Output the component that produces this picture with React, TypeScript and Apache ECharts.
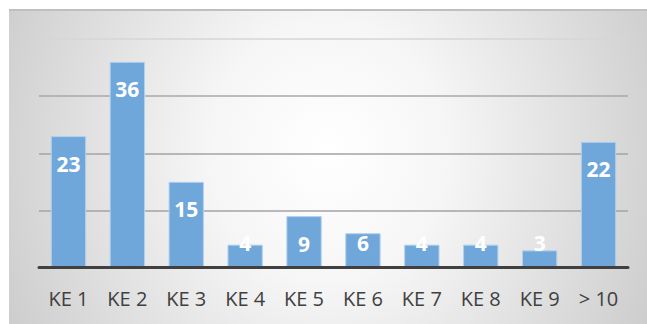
import React, { useEffect, useRef } from "react";
import * as echarts from "echarts";

const categories = ["KE 1", "KE 2", "KE 3", "KE 4", "KE 5", "KE 6", "KE 7", "KE 8", "KE 9", "> 10"];
const counts = [23, 36, 15, 4, 9, 6, 4, 4, 3, 22];
const yTicks = { min: 0, max: 40, interval: 10 };

const FONT = '"Open Sans", "Noto Sans", sans-serif';

export default function App() {
  const ref = useRef<HTMLDivElement>(null);

  useEffect(() => {
    if (!ref.current) return;
    const chart = echarts.init(ref.current, null, { renderer: "svg" });

    // Short bars keep their value pinned near the baseline instead of under the bar top.
    const barData = counts.map((v) => ({
      value: v,
      label:
        v < 9
          ? { position: "insideBottom", distance: 14 }
          : { position: "insideTop", distance: 17 },
    }));

    chart.setOption({
      animation: false,
      backgroundColor: "transparent",
      grid: { left: 30, right: 19, top: 28, bottom: 56.5, containLabel: false },
      xAxis: {
        type: "category",
        data: categories,
        axisTick: { show: false },
        axisLine: { show: true, lineStyle: { color: "#404040", width: 3 } },
        axisLabel: { color: "#404040", fontSize: 20, fontFamily: FONT, margin: 21, interval: 0 },
        z: 5,
      },
      yAxis: {
        type: "value",
        min: yTicks.min,
        max: yTicks.max,
        interval: yTicks.interval,
        axisLabel: { show: false },
        axisLine: { show: false },
        axisTick: { show: false },
        splitLine: {
          show: true,
          lineStyle: {
            color: ["#9a9a9a", "#a3a3a3", "#a3a3a3", "#a8a8a8", "#d6d6d6"],
            width: 1.5,
          },
        },
      },
      series: [
        {
          type: "bar",
          data: barData,
          barCategoryGap: "40%",
          itemStyle: { color: "#6fa7da", borderColor: "#b3d0ee", borderWidth: 1 },
          label: {
            show: true,
            color: "#ffffff",
            fontWeight: "bold",
            fontSize: 21,
            fontFamily: FONT,
          },
        },
      ],
    });

    return () => chart.dispose();
  }, []);

  return (
    <div
      ref={ref}
      style={{
        position: "absolute",
        left: 9,
        top: 9,
        width: 638,
        height: 315,
        boxSizing: "border-box",
        borderTop: "2px solid #bfbfbf",
        background:
          "radial-gradient(ellipse 62% 140% at 50% 45%, #ffffff 0%, #f6f6f6 30%, #c6c6c6 100%)",
      }}
    />
  );
}
